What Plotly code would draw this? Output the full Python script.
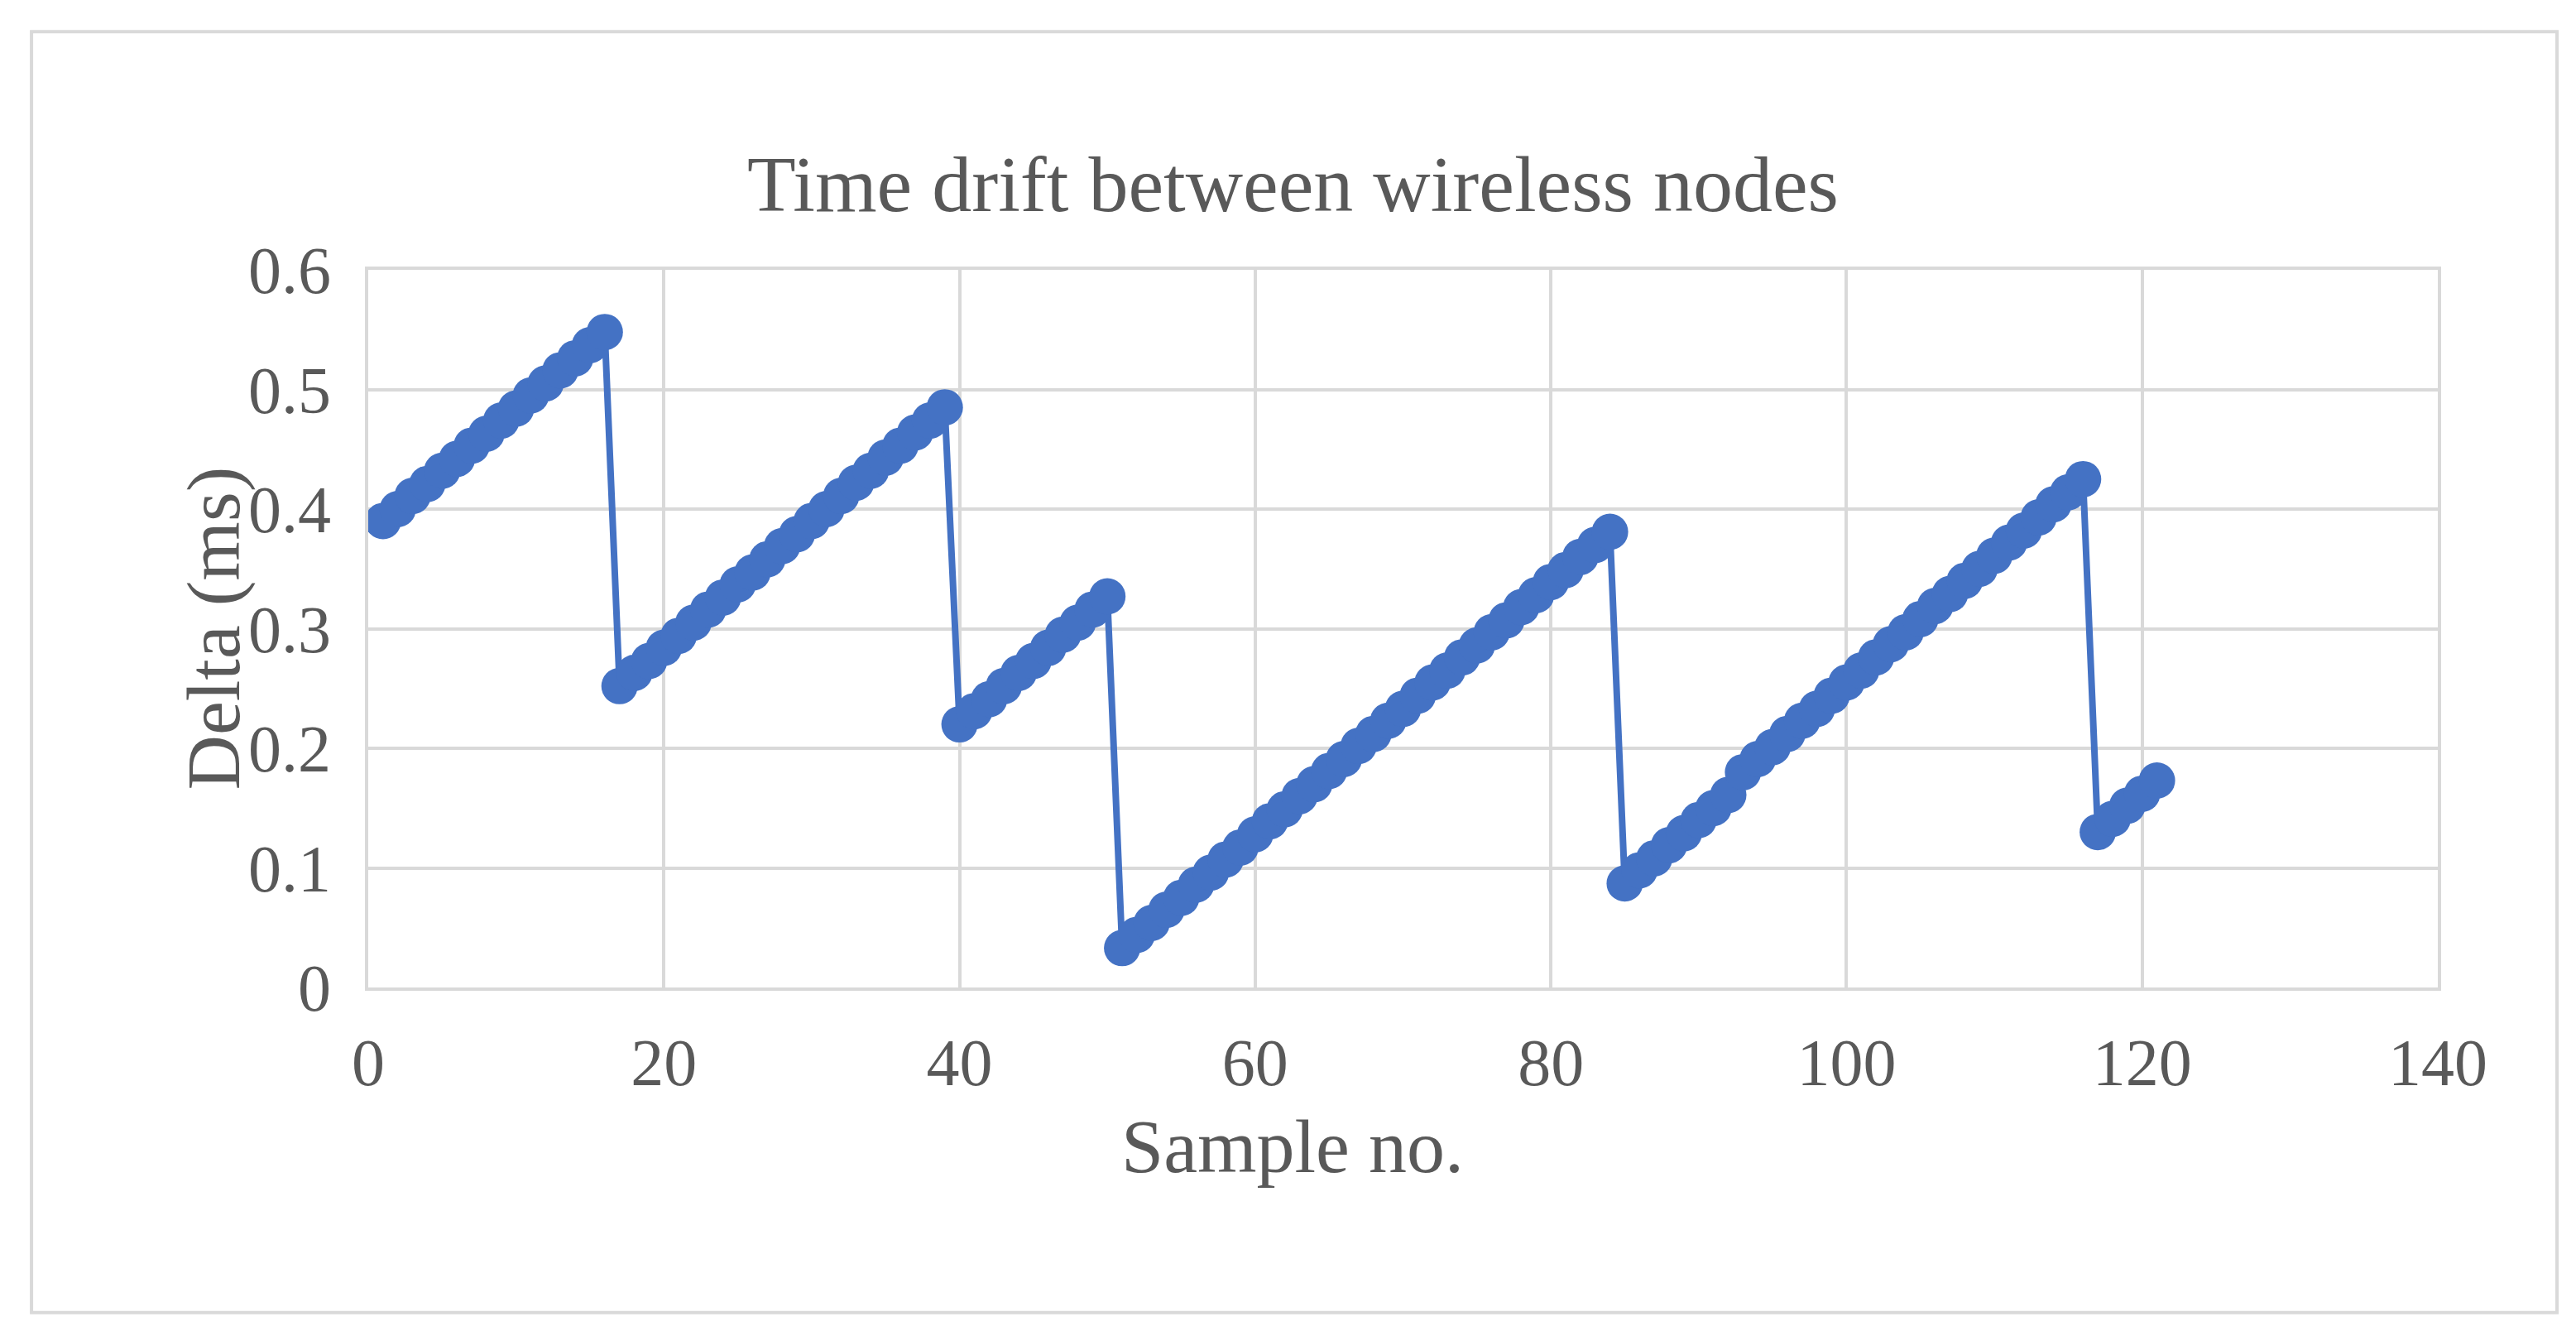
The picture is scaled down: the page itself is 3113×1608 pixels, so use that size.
import plotly.graph_objects as go

seg1 = [0.390,0.400,0.411,0.421,0.432,0.442,0.453,0.463,0.474,0.484,0.495,0.505,0.516,0.526,0.537,0.548]
seg2 = [0.252,0.263,0.273,0.284,0.294,0.305,0.316,0.326,0.337,0.347,0.358,0.369,0.379,0.390,0.400,0.411,0.422,0.432,0.443,0.453,0.464,0.474,0.485]
seg3 = [0.220,0.231,0.241,0.252,0.263,0.273,0.284,0.295,0.305,0.316,0.327]
seg4 = [0.033,0.044,0.054,0.065,0.075,0.086,0.096,0.107,0.117,0.128,0.139,0.149,0.160,0.170,0.181,0.191,0.202,0.212,0.223,0.233,0.244,0.255,0.265,0.276,0.286,0.297,0.307,0.318,0.328,0.339,0.349,0.360,0.370,0.381]
seg5 = [0.087,0.098,0.108,0.119,0.129,0.140,0.150,0.161,0.180,0.191,0.201,0.212,0.223,0.233,0.244,0.255,0.265,0.276,0.287,0.297,0.308,0.319,0.329,0.340,0.350,0.361,0.372,0.382,0.393,0.404,0.414,0.425]
seg6 = [0.130,0.141,0.152,0.162,0.173]
delta = seg1 + seg2 + seg3 + seg4 + seg5 + seg6
samples = list(range(1, len(delta) + 1))

FONT = "Liberation Serif"
GRAY = "#595959"
GRID = "#d9d9d9"

fig = go.Figure(go.Scatter(
    x=samples, y=delta, mode="lines+markers",
    line=dict(color="#4472C4", width=8),
    marker=dict(color="#4472C4", size=44),
))

fig.update_layout(
    width=3113, height=1608,
    margin=dict(l=437, r=175, t=318, b=423),
    paper_bgcolor="white", plot_bgcolor="white",
    showlegend=False,
    font=dict(family=FONT, color=GRAY, size=80),
    xaxis=dict(range=[0, 140], dtick=20, showgrid=True, gridcolor=GRID, gridwidth=4,
               showline=True, linecolor=GRID, linewidth=4, mirror=True,
               zeroline=False, ticks="", ticklabelstandoff=18),
    yaxis=dict(range=[0, 0.6], dtick=0.1, showgrid=True, gridcolor=GRID, gridwidth=4,
               showline=True, linecolor=GRID, linewidth=4, mirror=True,
               zeroline=False, ticks="", ticklabelstandoff=25, tickformat="~g"),
    shapes=[dict(type="rect", xref="paper", yref="paper",
                 x0=-0.1627, x1=1.0576, y0=-0.453, y1=1.332,
                 line=dict(color=GRID, width=4))],
    annotations=[
        dict(text="Time drift between wireless nodes", xref="paper", yref="paper",
             x=(1554-437)/2501, y=(1185-159)/867, showarrow=False,
             font=dict(size=96, family=FONT, color=GRAY)),
        dict(text="Sample no.", xref="paper", yref="paper",
             x=(1554-437)/2501, y=(1185-1430)/867, showarrow=False,
             font=dict(size=92, family=FONT, color=GRAY)),
        dict(text="Delta (ms)", xref="paper", yref="paper",
             x=(196-437)/2501, y=0.5, showarrow=False, textangle=-90,
             font=dict(size=92, family=FONT, color=GRAY)),
    ],
)
fig.write_html("out.html")
